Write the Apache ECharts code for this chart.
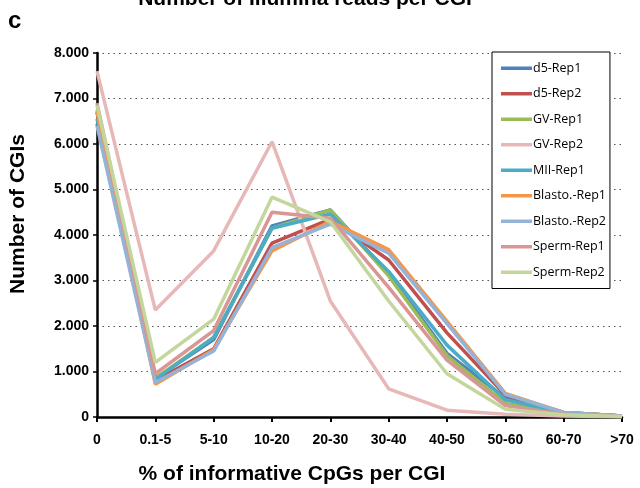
<!DOCTYPE html>
<html>
<head>
<meta charset="utf-8">
<script src="https://cdn.jsdelivr.net/npm/echarts@6/dist/echarts.min.js"></script>
<style>
  html, body { margin: 0; padding: 0; background: #fff; }
  #chart { width: 640px; height: 488px; }
</style>
</head>
<body>
<div id="chart"></div>
<script>
// Bins of informative CpG percentage per CGI
const categories = ['0', '0.1-5', '5-10', '10-20', '20-30', '30-40', '40-50', '50-60', '60-70', '>70'];

// Number of CGIs per bin, one array per sample
const d5Rep1     = [6450,  850, 1700, 4200, 4550, 3150, 1400, 420, 100, 20];
const d5Rep2     = [6700,  800, 1500, 3820, 4350, 3450, 1850, 480, 100, 20];
const gvRep1     = [6750,  850, 1750, 4150, 4550, 3100, 1350, 300,  80, 15];
const gvRep2     = [7600, 2350, 3650, 6050, 2550,  620,  150,  60,  20,  5];
const miiRep1    = [6550,  820, 1750, 4150, 4460, 3200, 1580, 380, 100, 20];
const blastoRep1 = [6700,  720, 1480, 3650, 4300, 3680, 2100, 520, 100, 20];
const blastoRep2 = [6400,  760, 1450, 3720, 4240, 3600, 2050, 500, 100, 20];
const spermRep1  = [6900,  950, 1900, 4500, 4370, 2850, 1250, 250,  60, 10];
const spermRep2  = [6850, 1200, 2150, 4830, 4290, 2550,  950, 170,  50, 10];

const seriesNames = ['d5-Rep1', 'd5-Rep2', 'GV-Rep1', 'GV-Rep2', 'MII-Rep1',
                     'Blasto.-Rep1', 'Blasto.-Rep2', 'Sperm-Rep1', 'Sperm-Rep2'];
const seriesData = [d5Rep1, d5Rep2, gvRep1, gvRep2, miiRep1,
                    blastoRep1, blastoRep2, spermRep1, spermRep2];
const seriesColors = ['#4F81BD', '#C0504D', '#9BBB59', '#E6B9B8', '#4BACC6',
                      '#F79646', '#95B3D7', '#D99694', '#C3D69B'];

const yTicks = { min: 0, max: 8000, interval: 1000 };

const chart = echarts.init(document.getElementById('chart'), null, { renderer: 'canvas' });

const boldFont = '"Liberation Sans", Arial, sans-serif';

chart.setOption({
  animation: false,
  backgroundColor: '#ffffff',
  grid: { left: 97, right: 18, top: 53, bottom: 71, containLabel: false },
  xAxis: {
    type: 'category',
    data: categories,
    boundaryGap: false,
    axisLine: { show: true, lineStyle: { color: '#000', width: 2.5 } },
    axisTick: { show: true, alignWithLabel: true, length: 5, inside: false,
                lineStyle: { color: '#000', width: 2 } },
    axisLabel: { color: '#000', fontFamily: boldFont, fontWeight: 'bold', fontSize: 14, margin: 16 },
    splitLine: { show: false }
  },
  yAxis: {
    type: 'value',
    min: yTicks.min,
    max: yTicks.max,
    interval: yTicks.interval,
    axisLine: { show: true, lineStyle: { color: '#000', width: 2.5 } },
    axisTick: { show: true, length: 4, lineStyle: { color: '#000', width: 1.5 } },
    axisLabel: {
      color: '#000', fontFamily: boldFont, fontWeight: 'bold', fontSize: 14, margin: 8,
      formatter: v => v === 0 ? '0' : (v / 1000) + '.000'
    },
    splitLine: { show: true, lineStyle: { color: '#555', type: [1.5, 4], width: 1.2 } }
  },
  legend: {
    orient: 'vertical',
    left: 492,
    top: 52,
    width: 120,
    padding: [9, 4, 9, 9],
    backgroundColor: '#fff',
    borderColor: '#000',
    borderWidth: 1,
    borderRadius: 0,
    icon: 'rect',
    itemWidth: 31,
    itemHeight: 3.5,
    itemGap: 11,
    data: seriesNames,
    textStyle: { color: '#000', fontFamily: '"Open Sans", "Liberation Sans", sans-serif', fontSize: 12.5,
                 padding: [0, 0, 0, -4], lineHeight: 14.5 }
  },
  graphic: [
    { type: 'text', left: 8, top: 9,
      style: { text: 'c', font: 'bold 24px ' + boldFont, fill: '#000' } },
    { type: 'text', x: 305, y: 10,
      style: { text: 'Number of Illumina reads per CGI', font: 'bold 21px ' + boldFont,
               fill: '#000', align: 'center', verticalAlign: 'bottom' } },
    { type: 'text', x: 292, y: 474,
      style: { text: '% of informative CpGs per CGI', font: 'bold 21px ' + boldFont,
               fill: '#000', align: 'center', verticalAlign: 'middle' } },
    { type: 'text', x: 18, y: 214, rotation: Math.PI / 2,
      style: { text: 'Number of CGIs', font: 'bold 21px ' + boldFont,
               fill: '#000', align: 'center', verticalAlign: 'middle' } }
  ],
  series: seriesNames.map((name, i) => ({
    name: name,
    type: 'line',
    data: seriesData[i],
    showSymbol: false,
    symbol: 'none',
    color: seriesColors[i],
    lineStyle: { color: seriesColors[i], width: 3.5 },
    emphasis: { disabled: true }
  }))
});
</script>
</body>
</html>
